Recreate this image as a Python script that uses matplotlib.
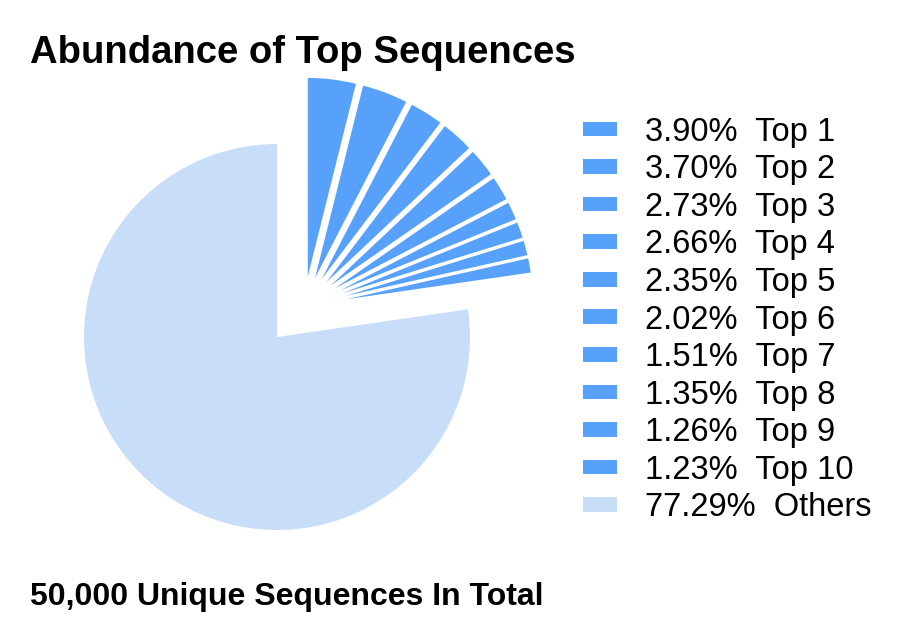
import math
import matplotlib
matplotlib.use('Agg')
from matplotlib import pyplot as plt
from matplotlib.patches import Patch

plt.rcParams['font.family'] = ['Liberation Sans', 'DejaVu Sans']

# share of reads per sequence group (%)
groups = ['Top 1', 'Top 2', 'Top 3', 'Top 4', 'Top 5',
          'Top 6', 'Top 7', 'Top 8', 'Top 9', 'Top 10', 'Others']
shares = [3.90, 3.70, 2.73, 2.66, 2.35, 2.02, 1.51, 1.35, 1.26, 1.23, 77.29]
total_unique = 50000

top_color = '#58A1FA'
other_color = '#C8DEF8'
colors = [top_color] * 10 + [other_color]

fig = plt.figure(figsize=(9, 6.4), dpi=100)
ax = fig.add_axes([0, 0, 1, 1])

wedges, _ = ax.pie(shares, colors=colors, startangle=90, counterclock=False,
                   wedgeprops=dict(edgecolor='white', linewidth=1))

# pull the top sequences out as one block, each wedge also pushed out a little
gx, gy, e = 0.140, 0.155, 0.13
for w in wedges[:10]:
    mid = math.radians((w.theta1 + w.theta2) / 2)
    w.set_center((gx + e * math.cos(mid), gy + e * math.sin(mid)))
    w.set_radius(1.062)
wedges[-1].set_linewidth(0)

ax.set_xlim(-277 / 193, 623 / 193)
ax.set_ylim(-303 / 193, 337 / 193)
ax.set_aspect('auto')
ax.axis('off')

handles = [Patch(facecolor=c, edgecolor='none') for c in colors]
labels = ['%.2f%%  %s' % (s, g) for s, g in zip(shares, groups)]
fig.legend(handles, labels, loc='center left', bbox_to_anchor=(0.648, 0.5),
           frameon=False, fontsize=23.5, handlelength=1.04, handleheight=0.31,
           handletextpad=0.86, labelspacing=0.2, borderpad=0, borderaxespad=0)

fig.text(0.033, 0.9016, 'Abundance of Top Sequences', fontsize=27.5,
         fontweight='bold', ha='left', va='baseline')
fig.text(0.033, 0.0547, '{:,} Unique Sequences In Total'.format(total_unique),
         fontsize=23, fontweight='bold', ha='left', va='baseline')

fig.savefig('out.png', dpi=100)
